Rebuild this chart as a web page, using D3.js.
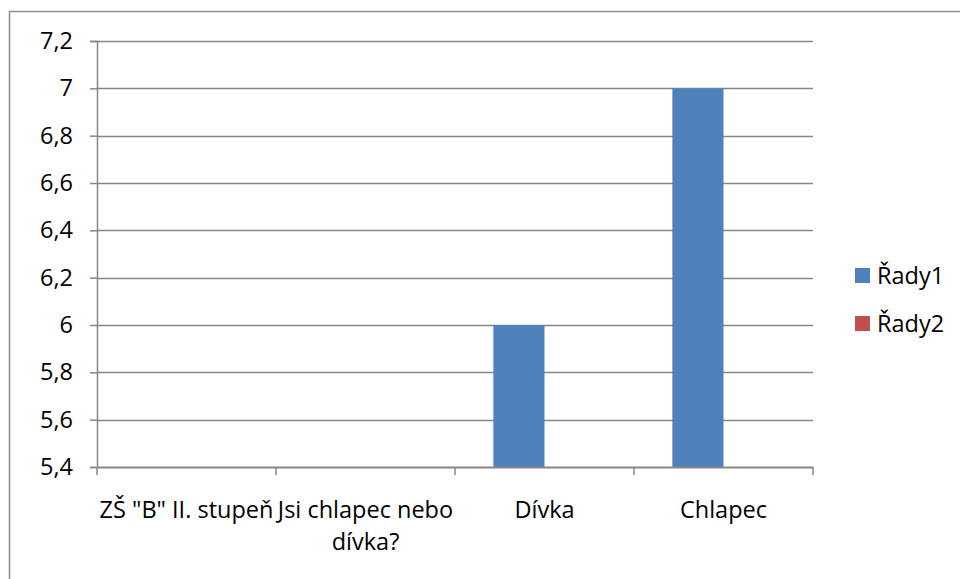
<!DOCTYPE html>
<html>
<head>
<meta charset="utf-8">
<script src="https://cdn.jsdelivr.net/npm/d3@7"></script>
<style>
  body { margin: 0; background: #fff; }
  text { font-family: "Open Sans", "Noto Sans", sans-serif; fill: #000; }
</style>
</head>
<body>
<div id="svg_area"></div>
<script>
// categories and series
var categories = ['ZŠ "B" II. stupeň', 'Jsi chlapec nebo dívka?', 'Dívka', 'Chlapec'];
var seriesNames = ['Řady1', 'Řady2'];
var rady1 = [null, null, 6, 7];
var rady2 = [null, null, null, null];
var yTicks = [5.4, 5.6, 5.8, 6, 6.2, 6.4, 6.6, 6.8, 7, 7.2];
var colors = ['#4f81bd', '#c0504d'];

var fontSize = '23.5px';

var svg = d3.select('#svg_area').append('svg').attr('width', 960).attr('height', 579),
    margin = {top: 41, right: 147, bottom: 112, left: 97},
    width = 960 - margin.left - margin.right,
    height = 579 - margin.top - margin.bottom;

// outer chart border
svg.append('rect')
    .attr('x', 9.5).attr('y', 11.5)
    .attr('width', 960).attr('height', 579)
    .attr('fill', 'none').attr('stroke', '#8c8c8c').attr('stroke-width', 1.5);

var g = svg.append('g').attr('transform', 'translate(' + margin.left + ',' + margin.top + ')');

var x = d3.scaleBand().domain(categories).range([0, width]);
var xSeries = d3.scaleBand().domain(seriesNames)
    .range([x.bandwidth() * 0.75 / 3.5, x.bandwidth() - x.bandwidth() * 0.75 / 3.5]);
var y = d3.scaleLinear().domain([5.4, 7.2]).range([height, 0]);

// gridlines
g.append('g')
    .selectAll('line')
    .data(yTicks.slice(1))
    .enter().append('line')
    .attr('x1', 0).attr('x2', width)
    .attr('y1', function(d) { return Math.round(y(d)) + 0.5; })
    .attr('y2', function(d) { return Math.round(y(d)) + 0.5; })
    .attr('stroke', '#868686').attr('stroke-width', 1.5);

// bars
var seriesData = [rady1, rady2];
seriesData.forEach(function(vals, si) {
    g.append('g').selectAll('rect')
        .data(vals.map(function(v, i) { return {cat: categories[i], v: v}; })
              .filter(function(d) { return d.v != null; }))
        .enter().append('rect')
        .attr('x', function(d) { return x(d.cat) + xSeries(seriesNames[si]); })
        .attr('width', xSeries.bandwidth())
        .attr('y', function(d) { return y(d.v); })
        .attr('height', function(d) { return height - y(d.v); })
        .attr('fill', colors[si]);
});

// y axis
var yAxis = g.append('g')
    .call(d3.axisLeft(y).tickValues(yTicks).tickSize(7).tickPadding(17)
          .tickFormat(function(d) { return d3.format('.1~f')(d).replace('.', ','); }));
yAxis.select('.domain').attr('stroke', '#868686').attr('stroke-width', 1.5);
yAxis.selectAll('.tick line').attr('stroke', '#868686').attr('stroke-width', 1.5);
yAxis.selectAll('.tick text').style('font-size', fontSize).attr('fill', '#000');

// x axis
var xAxis = g.append('g')
    .attr('transform', 'translate(0,' + height + ')')
    .call(d3.axisBottom(x).tickSize(0).tickFormat(''));
xAxis.select('.domain').attr('stroke', '#868686').attr('stroke-width', 2);
xAxis.selectAll('.tick').remove();
xAxis.selectAll('.sep')
    .data(d3.range(categories.length + 1))
    .enter().append('line')
    .attr('x1', function(i) { return i * x.step(); })
    .attr('x2', function(i) { return i * x.step(); })
    .attr('y1', 0).attr('y2', 8)
    .attr('stroke', '#868686').attr('stroke-width', 1.5);

// category labels, wrapped to the band width
categories.forEach(function(c) {
    var cx = x(c) + x.bandwidth() / 2;
    var t = xAxis.append('text')
        .attr('x', cx)
        .attr('y', 51)
        .attr('text-anchor', 'middle')
        .style('font-size', fontSize);
    var words = c.split(' '), line = [];
    var tspan = t.append('tspan').attr('x', cx).attr('dy', 0);
    words.forEach(function(w) {
        line.push(w);
        tspan.text(line.join(' '));
        if (tspan.node().getComputedTextLength() > x.bandwidth() && line.length > 1) {
            line.pop();
            tspan.text(line.join(' '));
            line = [w];
            tspan = t.append('tspan').attr('x', cx).attr('dy', 32).text(w);
        }
    });
});

// legend
var legend = svg.append('g').attr('transform', 'translate(855,268)');
seriesNames.forEach(function(s, i) {
    var row = legend.append('g').attr('transform', 'translate(0,' + (i * 48) + ')');
    row.append('rect').attr('width', 15).attr('height', 15).attr('fill', colors[i]);
    row.append('text').attr('x', 22).attr('y', 16).style('font-size', fontSize).text(s);
});
</script>
</body>
</html>
